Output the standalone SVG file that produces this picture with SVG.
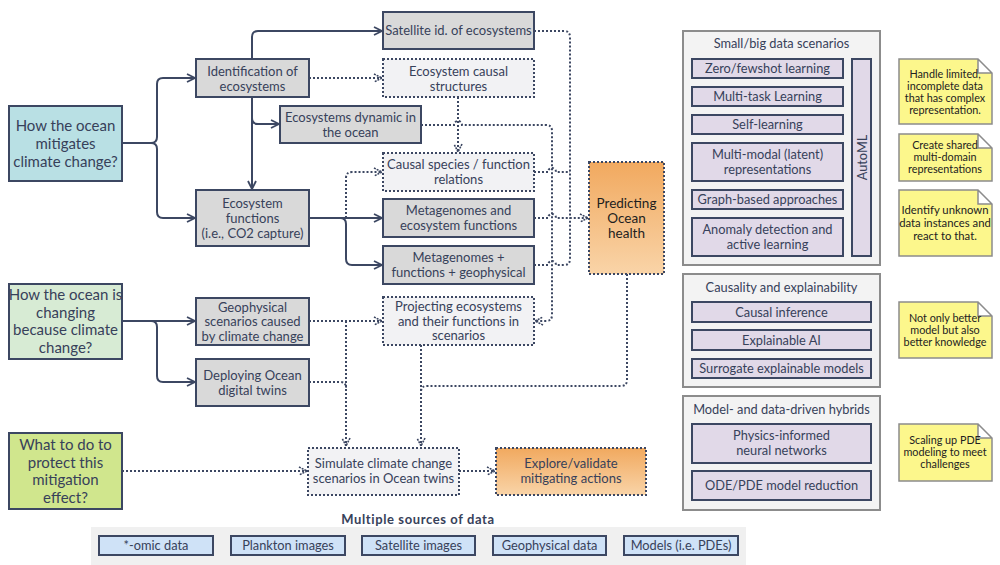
<svg xmlns="http://www.w3.org/2000/svg" width="1000" height="565" viewBox="0 0 1000 565">
<defs>
<linearGradient id="og" x1="0" y1="0" x2="0" y2="1"><stop offset="0" stop-color="#f1a95f"/><stop offset="1" stop-color="#f9d4a8"/></linearGradient>
<marker id="ar" viewBox="0 0 10 10" refX="9" refY="5" markerWidth="10" markerHeight="10" markerUnits="userSpaceOnUse" orient="auto"><path d="M1,1 L9,5 L1,9" fill="none" stroke="#3c4762" stroke-width="1.8"/></marker>
<marker id="ard" viewBox="0 0 10 10" refX="9" refY="5" markerWidth="10" markerHeight="10" markerUnits="userSpaceOnUse" orient="auto"><path d="M1,1 L9,5 L1,9" fill="none" stroke="#3c4762" stroke-width="1.6" stroke-dasharray="2 1"/></marker>
</defs>
<style>
text{font-family:Lato,"Liberation Sans",sans-serif;fill:#37415a;text-anchor:middle}
.n{font-size:13px}
.p{font-size:12.8px}
.q{font-size:15px}
.sol{fill:#d9d9d9;stroke:#3c4762;stroke-width:2}
.dot{fill:#f2f2f4;stroke:#3c4762;stroke-width:2;stroke-dasharray:2 2}
.org{fill:url(#og);stroke:#3c4762;stroke-width:2;stroke-dasharray:2 2}
.pan{fill:#f3f3f3;stroke:#8c8c8c;stroke-width:2}
.it{fill:#e1d9e8;stroke:#3c4762;stroke-width:2}
.note{fill:#fcf78c;stroke:#8c8c8c;stroke-width:1.5}
.nt{font-size:10.8px;fill:#222}
.ds{fill:#cfe2f7;stroke:#3c4762;stroke-width:2}
.c{fill:none;stroke:#3c4762;stroke-width:2}
.cd{fill:none;stroke:#3c4762;stroke-width:2;stroke-dasharray:2 2}
</style>
<rect width="1000" height="565" fill="#ffffff"/>

<g id="connectors">
<path class="c" d="M122,143 H151 Q157,143 157,137 V84 Q157,78 163,78 H195" marker-end="url(#ar)"/>
<path class="c" d="M151,143 Q157,143 157,149 V212 Q157,218 163,218 H195" marker-end="url(#ar)"/>
<path class="c" d="M252,59 V37 Q252,31 258,31 H382" marker-end="url(#ar)"/>
<path class="c" d="M252,97 V189" marker-end="url(#ar)"/>
<path class="c" d="M252,118 Q252,124 258,124 H279" marker-end="url(#ar)"/>
<path class="c" d="M309,218 H382" marker-end="url(#ar)"/>
<path class="c" d="M340,218 Q346,218 346,224 V259 Q346,265 352,265 H382" marker-end="url(#ar)"/>
<path class="c" d="M122,321 H195" marker-end="url(#ar)"/>
<path class="c" d="M151,321 Q157,321 157,327 V376 Q157,382 163,382 H195" marker-end="url(#ar)"/>

<path class="cd" d="M309,78 H382" marker-end="url(#ard)"/>
<path class="cd" d="M534,31 H564 Q570,31 570,37 V218"/>
<path class="cd" d="M534,172 H548 A4,4 0 0 1 556,172 H570"/>
<path class="cd" d="M534,265 H548 A4,4 0 0 1 556,265 H564 Q570,265 570,259 V218"/>
<path class="cd" d="M534,218 H548 A4,4 0 0 1 556,218 H588" marker-end="url(#ard)"/>
<path class="cd" d="M421,125 H454 A4,4 0 0 1 462,125 H546 Q552,125 552,131 V315 Q552,321 546,321 H535" marker-end="url(#ard)"/>
<path class="cd" d="M458,97 V152" marker-end="url(#ard)"/>
<path class="cd" d="M346,218 V178 Q346,172 352,172 H382" marker-end="url(#ard)"/>
<path class="cd" d="M309,321 H382" marker-end="url(#ard)"/>
<path class="cd" d="M346,321 V446" marker-end="url(#ard)"/>
<path class="cd" d="M309,382 H340 Q346,382 346,388"/>
<path class="cd" d="M421,345 V446" marker-end="url(#ard)"/>
<path class="cd" d="M627,274 V380 Q627,386 621,386 H427 Q421,386 421,392"/>
<path class="cd" d="M122,471 H307" marker-end="url(#ard)"/>
<path class="cd" d="M459,471 H495" marker-end="url(#ard)"/>
</g>

<g id="q1"><rect x="9" y="106" width="113" height="75" fill="#b9e0e4" stroke="#3c4762" stroke-width="2"/>
<text class="q" x="65.5" y="131"><tspan x="65.5">How the ocean</tspan><tspan x="65.5" dy="18">mitigates</tspan><tspan x="65.5" dy="18">climate change?</tspan></text></g>
<g id="q2"><rect x="9" y="284" width="113" height="75" fill="#d7ebd4" stroke="#3c4762" stroke-width="2"/>
<text class="q" x="65.5" y="300"><tspan x="65.5">How the ocean is</tspan><tspan x="65.5" dy="17.5">changing</tspan><tspan x="65.5" dy="17.5">because climate</tspan><tspan x="65.5" dy="17.5">change?</tspan></text></g>
<g id="q3"><rect x="9" y="433" width="113" height="76" fill="#d0e68d" stroke="#3c4762" stroke-width="2"/>
<text class="q" x="65.5" y="450"><tspan x="65.5">What to do to</tspan><tspan x="65.5" dy="17.5">protect this</tspan><tspan x="65.5" dy="17.5">mitigation</tspan><tspan x="65.5" dy="17.5">effect?</tspan></text></g>

<g id="identification"><rect class="sol" x="196" y="59" width="113" height="38"/>
<text class="n" y="75.5"><tspan x="252.5">Identification of</tspan><tspan x="252.5" dy="15">ecosystems</tspan></text></g>
<g id="eco-dynamic"><rect class="sol" x="280" y="106" width="141" height="37"/>
<text class="n" y="121.5"><tspan x="350.5">Ecosystems dynamic in</tspan><tspan x="350.5" dy="15">the ocean</tspan></text></g>
<g id="eco-functions"><rect class="sol" x="196" y="190" width="113" height="56"/>
<text class="n" y="208"><tspan x="252.5">Ecosystem</tspan><tspan x="252.5" dy="15">functions</tspan><tspan x="252.5" dy="15">(i.e., CO2 capture)</tspan></text></g>
<g id="satellite"><rect class="sol" x="383" y="12" width="151" height="37"/>
<text class="n" x="458.5" y="35">Satellite id. of ecosystems</text></g>
<g id="causal-structures"><rect class="dot" x="383" y="59" width="151" height="38"/>
<text class="n" y="75.5"><tspan x="458.5">Ecosystem causal</tspan><tspan x="458.5" dy="15">structures</tspan></text></g>
<g id="causal-species"><rect class="dot" x="383" y="153" width="151" height="38"/>
<text class="n" y="169"><tspan x="458.5">Causal species / function</tspan><tspan x="458.5" dy="15">relations</tspan></text></g>
<g id="metagenomes-eco"><rect class="sol" x="383" y="199" width="151" height="38"/>
<text class="n" y="215"><tspan x="458.5">Metagenomes and</tspan><tspan x="458.5" dy="15">ecosystem functions</tspan></text></g>
<g id="metagenomes-geo"><rect class="sol" x="383" y="246" width="151" height="38"/>
<text class="n" y="262"><tspan x="458.5">Metagenomes  +</tspan><tspan x="458.5" dy="15">functions + geophysical</tspan></text></g>
<g id="projecting"><rect class="dot" x="383" y="297" width="151" height="48"/>
<text class="n" y="311"><tspan x="458.5">Projecting ecosystems</tspan><tspan x="458.5" dy="14.5">and their functions in</tspan><tspan x="458.5" dy="14.5">scenarios</tspan></text></g>
<g id="geophysical"><rect class="sol" x="196" y="298" width="113" height="47"/>
<text class="n" y="311.5"><tspan x="252.5">Geophysical</tspan><tspan x="252.5" dy="14.5">scenarios caused</tspan><tspan x="252.5" dy="14.5">by climate change</tspan></text></g>
<g id="deploying"><rect class="sol" x="196" y="359" width="113" height="47"/>
<text class="n" y="379.5"><tspan x="252.5">Deploying Ocean</tspan><tspan x="252.5" dy="15">digital twins</tspan></text></g>
<g id="simulate"><rect class="dot" x="308" y="448" width="151" height="47"/>
<text class="n" y="468"><tspan x="383.5">Simulate climate change</tspan><tspan x="383.5" dy="15">scenarios in Ocean twins</tspan></text></g>
<g id="predicting"><rect class="org" x="589" y="162" width="75" height="112"/>
<text y="208" style="font-size:13.5px;fill:#1e1e1e"><tspan x="626.5">Predicting</tspan><tspan x="626.5" dy="15">Ocean</tspan><tspan x="626.5" dy="15">health</tspan></text></g>
<g id="explore"><rect class="org" x="496" y="448" width="150" height="47"/>
<text class="n" y="468"><tspan x="571">Explore/validate</tspan><tspan x="571" dy="15">mitigating actions</tspan></text></g>

<g id="data-sources">
<rect x="91" y="527" width="655" height="38" fill="#f0f0f0"/>
<text x="418" y="524" style="font-size:13px;font-weight:bold;letter-spacing:0.6px">Multiple sources of data</text>
<rect class="ds" x="99" y="536" width="114" height="19"/><text class="p" x="156" y="550">*-omic data</text>
<rect class="ds" x="231" y="536" width="114" height="19"/><text class="p" x="288" y="550">Plankton images</text>
<rect class="ds" x="362" y="536" width="113" height="19"/><text class="p" x="418.5" y="550">Satellite images</text>
<rect class="ds" x="493" y="536" width="113" height="19"/><text class="p" x="549.5" y="550">Geophysical data</text>
<rect class="ds" x="624" y="536" width="114" height="19"/><text class="p" x="681" y="550">Models (i.e. PDEs)</text>
</g>

<g id="panel-data">
<rect class="pan" x="683" y="31" width="197" height="234"/>
<text class="p" x="781.5" y="48">Small/big data scenarios</text>
<rect class="it" x="692" y="59" width="151" height="19"/><text class="p" x="767.5" y="73">Zero/fewshot learning</text>
<rect class="it" x="692" y="87" width="151" height="19"/><text class="p" x="767.5" y="101">Multi-task Learning</text>
<rect class="it" x="692" y="115" width="151" height="19"/><text class="p" x="767.5" y="129">Self-learning</text>
<rect class="it" x="692" y="143" width="151" height="38"/><text class="p" y="159"><tspan x="767.5">Multi-modal (latent)</tspan><tspan x="767.5" dy="15">representations</tspan></text>
<rect class="it" x="692" y="190" width="151" height="19"/><text class="p" x="767.5" y="204">Graph-based approaches</text>
<rect class="it" x="692" y="218" width="151" height="38"/><text class="p" y="234"><tspan x="767.5">Anomaly detection  and</tspan><tspan x="767.5" dy="15">active learning</tspan></text>
<rect class="it" x="852" y="59" width="19" height="197"/><text class="p" transform="translate(866.5,157.5) rotate(-90)" x="0" y="0">AutoML</text>
</g>

<g id="panel-causality">
<rect class="pan" x="683" y="274" width="197" height="113"/>
<text class="p" x="781.5" y="292">Causality and explainability</text>
<rect class="it" x="692" y="302" width="179" height="20"/><text class="p" x="781.5" y="316.5">Causal inference</text>
<rect class="it" x="692" y="330" width="179" height="20"/><text class="p" x="781.5" y="344.5">Explainable AI</text>
<rect class="it" x="692" y="359" width="179" height="19"/><text class="p" x="781.5" y="373">Surrogate explainable models</text>
</g>

<g id="panel-hybrids">
<rect class="pan" x="683" y="396" width="197" height="114"/>
<text class="p" x="781.5" y="414">Model- and data-driven hybrids</text>
<rect class="it" x="692" y="424" width="179" height="39"/><text class="p" y="440"><tspan x="781.5">Physics-informed</tspan><tspan x="781.5" dy="15">neural networks</tspan></text>
<rect class="it" x="692" y="471" width="179" height="29"/><text class="p" x="781.5" y="490">ODE/PDE model reduction</text>
</g>

<g id="note1"><path class="note" d="M899,59 H978 L992,73 V124 H899 Z M978,59 V73 H992"/>
<text class="nt" y="78"><tspan x="945">Handle limited,</tspan><tspan x="945" dy="12">incomplete data</tspan><tspan x="945" dy="12">that has complex</tspan><tspan x="945" dy="12">representation.</tspan></text></g>
<g id="note2"><path class="note" d="M899,134 H978 L992,148 V181 H899 Z M978,134 V148 H992"/>
<text class="nt" y="149"><tspan x="945">Create shared</tspan><tspan x="945" dy="12">multi-domain</tspan><tspan x="945" dy="12">representations</tspan></text></g>
<g id="note3"><path class="note" d="M899,190 H978 L992,204 V256 H899 Z M978,190 V204 H992"/>
<text class="nt" y="214" style="font-size:11.3px"><tspan x="945">Identify unknown</tspan><tspan x="945" dy="13">data instances and</tspan><tspan x="945" dy="13">react to that.</tspan></text></g>
<g id="note4"><path class="note" d="M899,302 H978 L992,316 V358 H899 Z M978,302 V316 H992"/>
<text class="nt" y="322"><tspan x="945">Not only better</tspan><tspan x="945" dy="12">model but also</tspan><tspan x="945" dy="12">better knowledge</tspan></text></g>
<g id="note5"><path class="note" d="M899,424 H978 L992,438 V481 H899 Z M978,424 V438 H992"/>
<text class="nt" y="444"><tspan x="945">Scaling up PDE</tspan><tspan x="945" dy="12">modeling to meet</tspan><tspan x="945" dy="12">challenges</tspan></text></g>
</svg>
